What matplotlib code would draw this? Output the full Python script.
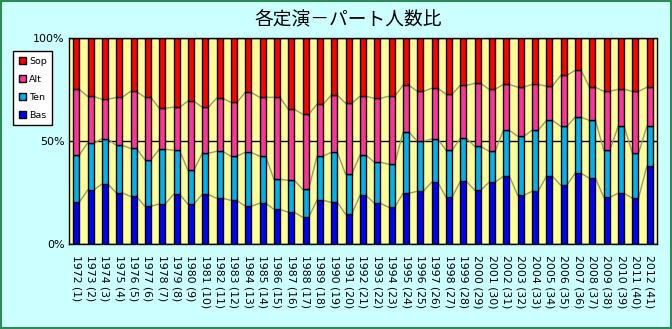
import matplotlib
matplotlib.use("Agg")
import matplotlib.pyplot as plt
from matplotlib.patches import Rectangle, Patch
import numpy as np

plt.rcParams['font.family'] = ['DejaVu Sans', 'Noto Sans CJK JP']

years = list(range(1972, 2013))
labels = [f"{y} ({i+1})" for i, y in enumerate(years)]

# share of each part (%) per concert
bas = [20.2, 26.1, 29.1, 24.8, 23.1, 18.3, 19.4, 24.1, 19.4, 24.1,
       22.2, 21.2, 18.3, 19.8, 16.8, 15.4, 13.0, 21.2, 20.2, 14.4,
       23.6, 19.8, 17.8, 24.6, 25.6, 30.0, 22.7, 30.4, 26.1, 30.0,
       32.9, 23.6, 25.6, 32.9, 28.5, 34.3, 31.9, 22.7, 24.6, 22.2, 37.7]
ten = [22.9, 22.8, 21.9, 23.1, 23.3, 22.5, 26.6, 21.4, 16.4, 19.9,
       22.8, 21.4, 26.2, 22.8, 14.6, 15.5, 13.6, 21.4, 24.3, 19.4,
       19.5, 19.9, 20.9, 29.6, 24.3, 21.0, 22.8, 20.9, 21.3, 15.0,
       22.3, 28.7, 29.6, 27.1, 28.6, 27.2, 28.1, 22.8, 32.5, 21.8, 19.4]
alt = [32.0, 22.8, 19.2, 23.3, 27.7, 30.4, 19.9, 20.9, 33.5, 22.4,
       25.7, 26.2, 29.1, 28.6, 39.8, 34.5, 36.4, 25.2, 27.7, 34.5,
       28.6, 31.0, 33.0, 22.8, 24.2, 24.6, 27.2, 25.7, 30.6, 30.1,
       22.3, 23.8, 22.3, 16.6, 24.8, 22.8, 16.1, 28.6, 18.0, 30.1, 19.0]
sop = [24.9, 28.3, 29.8, 28.8, 25.9, 28.8, 34.1, 33.6, 30.7, 33.6,
       29.3, 31.2, 26.4, 28.8, 28.8, 34.6, 37.0, 32.2, 27.8, 31.7,
       28.3, 29.3, 28.3, 23.0, 25.9, 24.4, 27.3, 23.0, 22.0, 24.9,
       22.5, 23.9, 22.5, 23.4, 18.1, 15.7, 23.9, 25.9, 24.9, 25.9, 23.9]

series = [("Bas", bas, "#0000FF"), ("Ten", ten, "#00B0F0"),
          ("Alt", alt, "#FF3399"), ("Sop", sop, "#FF0000")]

fig = plt.figure(figsize=(6.72, 3.29), dpi=100)
fig.patch.set_facecolor("#CCFFFF")
ax = fig.add_axes([69/672, 1-244/329, (657-69)/672, (244-38)/329])
ax.set_facecolor("#FFFF99")

n = len(years)
x = np.arange(n)
w = 0.42
data = np.array([s[1] for s in series], dtype=float)
totals = data.sum(axis=0)
pct = data / totals * 100

bottom = np.zeros(n)
cum_levels = []
for (name, _, col), vals in zip(series, pct):
    ax.bar(x, vals, width=w, bottom=bottom, color=col, edgecolor="black",
           linewidth=1.0, zorder=3, label=name)
    bottom = bottom + vals
    cum_levels.append(bottom.copy())

# series lines between adjacent bars
for lvl in cum_levels[:3]:
    xs, ys = [], []
    for i in range(n - 1):
        xs += [x[i] + w/2, x[i+1] - w/2, np.nan]
        ys += [lvl[i], lvl[i+1], np.nan]
    ax.plot(xs, ys, color="#9a9870", lw=1.0, zorder=2)

ax.set_xlim(-0.5, n - 0.5)
ax.set_ylim(0, 100)
ax.set_yticks([0, 50, 100])
ax.set_yticklabels(["0%", "50%", "100%"], fontsize=8)
ax.yaxis.grid(True, color="black", lw=1.0, zorder=1)
ax.set_axisbelow(True)
ax.set_xticks(x)
ax.set_xticklabels(labels, rotation=-90, fontsize=7.8, va="top", ha="center",
                   rotation_mode="default")
ax.tick_params(axis="both", length=0, pad=3)
ax.tick_params(axis="x", pad=8)
for sp in ax.spines.values():
    sp.set_color("black")
    sp.set_linewidth(1.0)
    sp.set_zorder(5)

fig.text(348/672, 1-19/329, "各定演－パート人数比", ha="center", va="center",
         fontsize=13.5, family=["Noto Sans CJK JP", "DejaVu Sans"])

handles = [Patch(facecolor=c, edgecolor="black", label=nm)
           for nm, _, c in reversed(series)]
leg = fig.legend(handles=handles, loc="upper left",
                 bbox_to_anchor=(13/672, 1-51/329), fontsize=6.8,
                 frameon=True, fancybox=False, edgecolor="black",
                 framealpha=1, borderaxespad=0, handlelength=0.8,
                 handleheight=0.8, handletextpad=0.3, labelspacing=0.95,
                 borderpad=0.6)
leg.get_frame().set_linewidth(1.0)

fig.patches.append(Rectangle((0.001, 0.002), 0.997, 0.995, transform=fig.transFigure,
                             fill=False, edgecolor="#2E8B57", lw=1.5))

fig.savefig("out.png", dpi=100, facecolor=fig.get_facecolor())
